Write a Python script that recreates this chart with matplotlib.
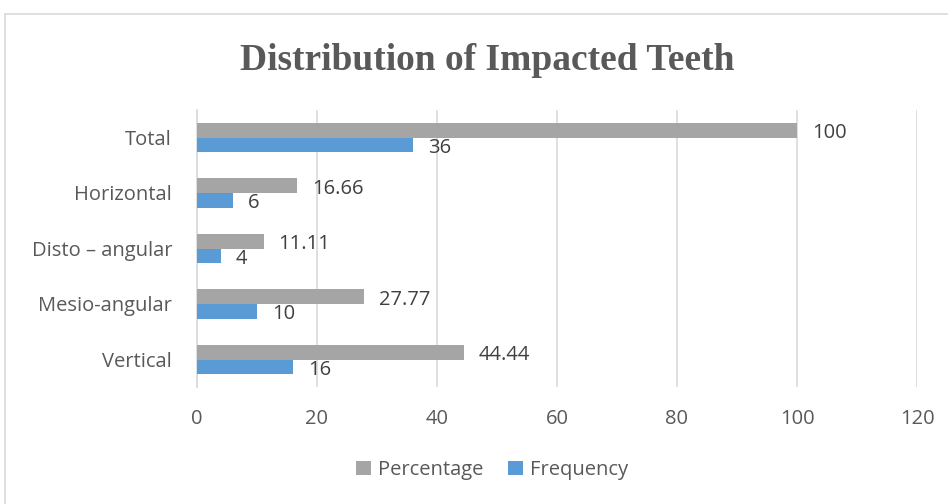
import matplotlib.pyplot as plt
import numpy as np
from matplotlib.patches import Rectangle

categories = ['Vertical', 'Mesio-angular', 'Disto – angular', 'Horizontal', 'Total']
percentage = [44.44, 27.77, 11.11, 16.66, 100]
frequency = [16, 10, 4, 6, 36]
pct_labels = ['44.44', '27.77', '11.11', '16.66', '100']
freq_labels = ['16', '10', '4', '6', '36']

grey = '#A5A5A5'
blue = '#5B9BD5'
txt = '#595959'
fs = 14.5

fig = plt.figure(figsize=(9.48, 5.04), dpi=100)
ax = fig.add_axes([197 / 948, 1 - 387.25 / 504, 720 / 948, 277.5 / 504])

# outer chart border
fig.patches.append(Rectangle((5 / 948, -0.05), 1.0, 1 - 14 / 504 + 0.05,
                             transform=fig.transFigure, fill=False,
                             edgecolor='#d9d9d9', linewidth=1.2))

y = np.arange(len(categories))
h = 0.265
ax.barh(y + h / 2, percentage, height=h, color=grey, label='Percentage', zorder=3)
ax.barh(y - h / 2, frequency, height=h, color=blue, label='Frequency', zorder=3)

for yi, v, s in zip(y, percentage, pct_labels):
    ax.annotate(s, (v, yi + h / 2), xytext=(15, -3), textcoords='offset pixels',
                ha='left', va='center', fontsize=fs, color='#404040', family='Open Sans')
for yi, v, s in zip(y, frequency, freq_labels):
    ax.annotate(s, (v, yi - h / 2), xytext=(15, -3), textcoords='offset pixels',
                ha='left', va='center', fontsize=fs, color='#404040', family='Open Sans')

ax.set_xlim(0, 120)
ax.set_ylim(-0.5, 4.5)
ax.set_xticks(range(0, 121, 20))
ax.set_yticks(y)
ax.set_yticklabels(categories)
ax.grid(axis='x', color='#d9d9d9', linewidth=1.2, zorder=0)
for s in ['top', 'right', 'bottom']:
    ax.spines[s].set_visible(False)
ax.spines['left'].set_color('#d9d9d9')
ax.spines['left'].set_linewidth(1.2)
ax.tick_params(axis='both', length=0, labelsize=fs, labelcolor=txt)
ax.tick_params(axis='x', pad=16)
ax.tick_params(axis='y', pad=18)
for lab in ax.get_xticklabels() + ax.get_yticklabels():
    lab.set_family('Open Sans')

fig.text(487 / 948, 1 - 60 / 504, 'Distribution of Impacted Teeth', ha='center', va='center',
         fontsize=27, fontweight='bold', color=txt, family='Liberation Serif')

handles, labels = ax.get_legend_handles_labels()
fig.legend(handles, labels, loc='center', bbox_to_anchor=(492 / 948, 1 - 470 / 504), ncol=2,
           frameon=False, prop={'family': 'Open Sans', 'size': fs}, labelcolor=txt,
           handlelength=0.75, handleheight=0.75, handletextpad=0.35, columnspacing=1.2)

fig.savefig('out.png', dpi=100)
